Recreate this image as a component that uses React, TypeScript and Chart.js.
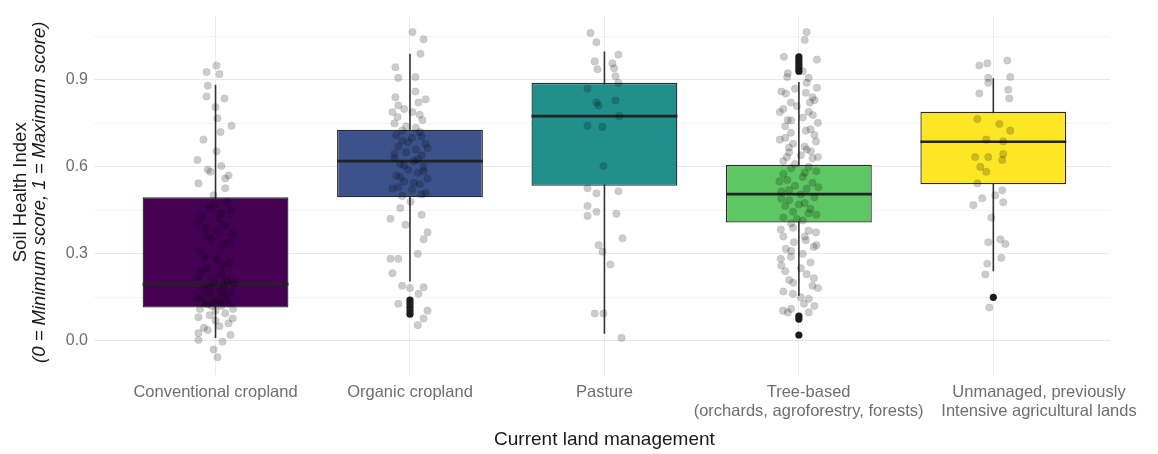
import React, { useEffect, useRef } from 'react';
import { Chart, registerables } from 'chart.js';

Chart.register(...registerables);

// ---------- data ----------
const categories: string[][] = [
  ['Conventional cropland'],
  ['Organic cropland'],
  ['Pasture'],
  ['Tree-based', '(orchards, agroforestry, forests)'],
  ['Unmanaged, previously', 'Intensive agricultural lands'],
];
const boxColors = ['#440154', '#3B528B', '#21908C', '#5DC863', '#FDE725'];

const whiskerLow = [0.01, 0.205, 0.024, 0.155, 0.24];
const q1 = [0.115, 0.495, 0.535, 0.408, 0.54];
const medians = [0.195, 0.62, 0.775, 0.506, 0.687];
const q3 = [0.495, 0.728, 0.89, 0.607, 0.79];
const whiskerHigh = [0.883, 0.99, 0.998, 0.893, 0.906];

const outlierGroup = [1, 1, 1, 1, 1, 3, 3, 3, 3, 3, 3, 3, 3, 3, 4];
const outlierValue = [0.14, 0.128, 0.116, 0.104, 0.092, 0.98, 0.97, 0.96, 0.95, 0.94, 0.93, 0.085, 0.075, 0.02, 0.15];

const yTicks = [0, 0.15, 0.3, 0.45, 0.6, 0.75, 0.9, 1.05];
const yTickLabels = ['0.0', '', '0.3', '', '0.6', '', '0.9', ''];

const yTitleLine1 = 'Soil Health Index';
const yTitleLine2 = '(0 = Minimum score, 1 = Maximum score)';
const xTitle = 'Current land management';

// jittered observations (value, horizontal jitter in category units)
const conventionalValues = [
  0.95, 0.927, 0.92, 0.88, 0.843, 0.836, 0.806, 0.768, 0.742, 0.72, 0.694, 0.654, 0.624, 0.603, 0.59, 0.583, 0.57, 0.56, 0.543, 0.526, 0.502,
  0.48, 0.46, 0.45, 0.43, 0.42, 0.4, 0.39, 0.37, 0.35, 0.33, 0.31, 0.28, 0.27, 0.25, 0.23, 0.22, 0.21, 0.2, 0.19, 0.18, 0.17, 0.17, 0.16, 0.15, 0.15, 0.14, 0.13, 0.13, 0.12, 0.12, 0.11, 0.11,
  0.47, 0.44, 0.41, 0.38, 0.36, 0.34, 0.29, 0.26, 0.24, 0.2, 0.185, 0.165, 0.145, 0.135, 0.125,
  0.104, 0.095, 0.088, 0.081, 0.077, 0.07, 0.06, 0.05, 0.045, 0.037, 0.027, 0.02, 0.003, -0.003, -0.03, -0.057,
];
const conventionalOffsets = [
  0.005, -0.046, 0.02, -0.04, -0.046, 0.046, 0, 0.01, 0.082, 0.026, -0.062, 0.005, -0.093, 0.03, -0.04, -0.026, 0.067, 0.05, -0.088, 0.05, -0.01,
  0.06, -0.03, 0.08, -0.07, 0.02, 0.05, -0.05, 0.09, -0.02, 0.04, -0.08, 0.01, 0.07, -0.04, 0.03, -0.09, 0.06, -0.01, 0.04, -0.06, 0.02, 0.08, -0.03, 0.05, -0.07, 0, 0.07, -0.05, 0.03, -0.02, 0.09, -0.08,
  -0.01, 0.03, -0.09, 0.01, -0.04, 0.07, -0.05, 0.03, -0.07, 0.09, -0.03, 0.04, -0.09, 0.02, -0.04,
  0, 0.05, -0.03, -0.088, 0.088, 0, 0.067, 0.02, -0.06, -0.04, -0.088, 0.077, -0.088, 0.036, -0.01, 0.01,
];

const organicValues = [
  1.065, 1.04, 0.99, 0.944, 0.907, 0.91, 0.86, 0.84, 0.833, 0.812, 0.822, 0.789, 0.789, 0.772, 0.762,
  0.8, 0.78, 0.75, 0.735,
  0.74, 0.72, 0.71, 0.7, 0.69, 0.68, 0.67, 0.66, 0.65, 0.64, 0.63, 0.62, 0.61, 0.6, 0.59, 0.58, 0.57, 0.56, 0.55, 0.54, 0.53, 0.52, 0.51, 0.5,
  0.725, 0.705, 0.685, 0.665, 0.645, 0.625, 0.605, 0.585, 0.565, 0.545, 0.525, 0.505,
  0.48, 0.458, 0.421, 0.435, 0.4, 0.374, 0.35, 0.3, 0.283, 0.283, 0.233, 0.19, 0.182, 0.185, 0.162, 0.128, 0.104, 0.077, 0.054,
];
const organicOffsets = [
  0.013, 0.07, 0.054, -0.075, -0.06, 0.028, 0.028, -0.075, 0.08, -0.06, 0.044, -0.09, 0.013, -0.064, 0.064,
  -0.03, 0.05, -0.08, 0.03,
  -0.02, 0.05, -0.07, 0.01, -0.04, 0.08, -0.06, 0.03, -0.02, 0.06, -0.08, 0.02, -0.05, 0.07, -0.01, 0.04, -0.07, 0.09, -0.03, 0.05, -0.06, 0.01, 0.08, -0.04,
  -0.04, 0.06, -0.01, 0.09, -0.08, 0.04, -0.03, 0.07, -0.05, 0.02, -0.09, 0.06,
  0.003, -0.05, -0.1, 0.06, -0.023, 0.09, 0.07, 0.04, -0.1, -0.06, -0.09, -0.04, 0, 0.07, 0.044, -0.06, 0.09, 0.07, 0.04,
];

const pastureValues = [
  1.062, 1.03, 0.987, 0.964, 0.957, 0.94, 0.937, 0.913, 0.89, 0.87, 0.822, 0.829, 0.812, 0.775, 0.742, 0.738, 0.603,
  0.526, 0.509, 0.516, 0.465, 0.445, 0.431, 0.438, 0.354, 0.33, 0.307, 0.263, 0.094, 0.094, 0.01,
];
const pastureOffsets = [
  -0.072, -0.041, 0.072, -0.05, 0.041, 0.05, -0.036, 0.057, 0.072, -0.087, -0.041, 0.057, -0.03, 0.077, -0.087, -0.01, -0.005,
  -0.087, -0.041, 0.072, -0.087, -0.041, -0.087, 0.062, 0.093, -0.03, -0.01, 0.03, -0.05, -0.005, 0.088,
];

const treeValues = [
  1.065, 1.038, 0.98, 0.97, 0.923, 0.907, 0.873, 0.853, 0.856, 0.822, 0.822, 0.789, 0.779, 0.762, 0.752, 0.718, 0.725, 0.694, 0.688, 0.667, 0.654, 0.634, 0.634,
  0.87, 0.84, 0.8, 0.77, 0.74, 0.71, 0.68, 0.66, 0.64, 0.62,
  0.93, 0.91, 0.89, 0.86, 0.83, 0.81, 0.79, 0.76, 0.73, 0.7, 0.67, 0.65, 0.63, 0.61,
  0.6, 0.595, 0.585, 0.575, 0.565, 0.555, 0.545, 0.535, 0.525, 0.515, 0.505, 0.495, 0.485, 0.475, 0.465, 0.455, 0.445, 0.435, 0.425, 0.415, 0.405, 0.47, 0.53, 0.55, 0.49,
  0.58, 0.52, 0.44, 0.42,
  0.39, 0.384, 0.374, 0.36, 0.34, 0.347, 0.317, 0.324, 0.283, 0.29, 0.27, 0.25, 0.24, 0.216, 0.2, 0.182, 0.162, 0.145, 0.128, 0.104, 0.098, 0.098,
  0.38, 0.36, 0.33, 0.31, 0.3, 0.26, 0.23, 0.21, 0.19, 0.17, 0.15, 0.12, 0.11,
];
const treeOffsets = [
  0.04, 0.03, -0.077, 0.093, -0.057, 0.05, 0.093, -0.067, 0.036, -0.041, 0.057, -0.098, 0.072, -0.057, 0.098, -0.041, 0.036, -0.098, 0.088, -0.051, 0.062, -0.062, 0.098,
  -0.02, 0.07, -0.08, 0.02, -0.07, 0.08, -0.03, 0.04, 0.01, -0.08,
  0.02, -0.06, 0.04, -0.09, 0.08, -0.01, 0.05, -0.04, 0.06, -0.07, 0.03, -0.05, 0.07, -0.02,
  0.05, -0.04, 0.09, -0.08, 0.02, -0.06, 0.07, -0.02, 0.04, -0.09, 0.01, 0.08, -0.05, 0.03, -0.07, 0.06, -0.03, 0.09, -0.08, 0.02, -0.04, 0, 0.1, -0.1, -0.09,
  0.03, -0.05, 0.05, -0.01,
  -0.03, -0.093, 0.088, 0.03, -0.026, 0.036, -0.067, 0.077, -0.093, -0.041, 0.06, 0.01, -0.07, 0.077, -0.03, 0.098, -0.031, 0.051, 0.026, -0.082, -0.057, 0.051,
  0.05, -0.08, 0.09, -0.04, 0.02, -0.09, 0.04, -0.05, 0.07, -0.08, 0.01, 0.08, -0.04,
];

const unmanagedValues = [
  0.95, 0.957, 0.967, 0.907, 0.91, 0.89, 0.853, 0.866, 0.836, 0.765, 0.748, 0.725, 0.694, 0.688, 0.634, 0.634, 0.624, 0.644,
  0.6, 0.583, 0.543, 0.502, 0.519, 0.492, 0.468, 0.478, 0.425, 0.34, 0.35, 0.334, 0.286, 0.266, 0.229, 0.115,
];
const unmanagedOffsets = [
  -0.072, -0.031, 0.072, -0.026, 0.087, -0.026, -0.072, 0.077, 0.082, -0.082, 0.031, 0.087, -0.036, 0.051, -0.093, -0.026, 0.046, 0.051,
  -0.067, -0.036, -0.082, 0.01, 0.046, -0.057, -0.103, 0.051, -0.01, -0.026, 0.036, 0.062, 0.041, -0.031, -0.041, -0.021,
];

const jitterValues = [conventionalValues, organicValues, pastureValues, treeValues, unmanagedValues];
const jitterOffsets = [conventionalOffsets, organicOffsets, pastureOffsets, treeOffsets, unmanagedOffsets];

// ---------- chart ----------
const FONT = "'Liberation Sans', Arial, Helvetica, sans-serif";
const BOX_WIDTH = 0.75;
const TICK_COLOR = '#6e6e6e';
const TITLE_COLOR = '#1a1a1a';
// horizontal nudges of the category labels (in category units), as laid out in the source figure
const labelNudge = [0, 0, 0, 0.05, 0.235];

const textPlugin = {
  id: 'axisText',
  afterDraw(chart: any) {
    const { ctx, chartArea } = chart;
    const xScale = chart.scales.x;
    ctx.save();
    // category labels
    ctx.fillStyle = TICK_COLOR;
    ctx.font = `16.5px ${FONT}`;
    ctx.textAlign = 'center';
    ctx.textBaseline = 'middle';
    categories.forEach((lines, i) => {
      const x = xScale.getPixelForValue(i + labelNudge[i]);
      lines.forEach((line, k) => {
        ctx.fillText(line, x, chartArea.bottom + 17 + k * 19);
      });
    });
    // x title
    ctx.fillStyle = TITLE_COLOR;
    ctx.font = `19px ${FONT}`;
    ctx.fillText(xTitle, xScale.getPixelForValue(2), chartArea.bottom + 65);
    // y title
    const cy = (chartArea.top + chartArea.bottom) / 2;
    ctx.translate(21, cy - 3);
    ctx.rotate(-Math.PI / 2);
    ctx.font = `18.5px ${FONT}`;
    ctx.fillText(yTitleLine1, 0, 0);
    ctx.font = `italic 18.5px ${FONT}`;
    ctx.fillText(yTitleLine2, 0, 19);
    ctx.restore();
  },
};

export default function App() {
  const canvasRef = useRef<HTMLCanvasElement | null>(null);

  useEffect(() => {
    if (!canvasRef.current) return;
    Chart.defaults.font.family = FONT;

    const whiskerSets = categories.map((_, i) => ({
      type: 'line' as const,
      data: [
        { x: i, y: whiskerLow[i] },
        { x: i, y: whiskerHigh[i] },
      ],
      borderColor: '#333333',
      borderWidth: 1.6,
      pointRadius: 0,
      order: 5,
    }));

    const boxSet = {
      type: 'bar' as const,
      data: categories.map((_, i) => ({ x: i, y: [q1[i], q3[i]] })),
      backgroundColor: boxColors,
      borderColor: '#2b2b2b',
      borderWidth: 1.3,
      borderSkipped: false,
      barPercentage: BOX_WIDTH,
      categoryPercentage: 1,
      order: 4,
    };

    const medianSets = categories.map((_, i) => ({
      type: 'line' as const,
      data: [
        { x: i - BOX_WIDTH / 2, y: medians[i] },
        { x: i + BOX_WIDTH / 2, y: medians[i] },
      ],
      borderColor: '#222222',
      borderWidth: 2.6,
      pointRadius: 0,
      order: 3,
    }));

    const outlierSet = {
      type: 'scatter' as const,
      data: outlierValue.map((v, k) => ({ x: outlierGroup[k], y: v })),
      backgroundColor: '#1c1c1c',
      borderWidth: 0,
      pointRadius: 3.6,
      order: 2,
    };

    const jitterSet = {
      type: 'scatter' as const,
      data: jitterValues.flatMap((vals, i) => vals.map((v, k) => ({ x: i + jitterOffsets[i][k], y: v }))),
      backgroundColor: 'rgba(0,0,0,0.2)',
      borderColor: 'rgba(0,0,0,0.08)',
      borderWidth: 0.8,
      pointRadius: 3.8,
      order: 1,
    };

    const chart = new Chart(canvasRef.current, {
      type: 'bar',
      data: { datasets: [...whiskerSets, boxSet, ...medianSets, outlierSet, jitterSet] as any },
      options: {
        animation: false,
        responsive: false,
        layout: { padding: { left: 0, top: 0, bottom: 0, right: 48 } },
        plugins: { legend: { display: false }, tooltip: { enabled: false } },
        scales: {
          x: {
            type: 'linear',
            offset: false,
            min: -0.625,
            max: 4.6,
            afterBuildTicks: (scale: any) => {
              scale.ticks = categories.map((_, i) => ({ value: i }));
            },
            afterFit: (scale: any) => {
              scale.height = 79;
            },
            ticks: { display: false },
            grid: { color: '#ececec', lineWidth: 1, drawTicks: false, offset: false },
            border: { display: false },
          },
          y: {
            type: 'linear',
            min: -0.118,
            max: 1.122,
            afterBuildTicks: (scale: any) => {
              scale.ticks = yTicks.map((v) => ({ value: v }));
            },
            afterFit: (scale: any) => {
              scale.width = 94;
            },
            ticks: {
              padding: 6,
              color: TICK_COLOR,
              font: { size: 16 },
              callback: (_v: any, idx: number) => yTickLabels[idx],
            },
            grid: {
              color: (ctx: any) => (yTickLabels[ctx.index] ? '#e8e8e8' : '#f3f3f3'),
              lineWidth: 1,
              drawTicks: false,
            },
            border: { display: false },
          },
        },
      },
      plugins: [textPlugin],
    });
    return () => chart.destroy();
  }, []);

  return (
    <div style={{ position: 'absolute', left: 0, top: 0, width: 1158, height: 454, background: '#fff' }}>
      <canvas ref={canvasRef} width={1158} height={454} style={{ display: 'block' }} />
    </div>
  );
}
